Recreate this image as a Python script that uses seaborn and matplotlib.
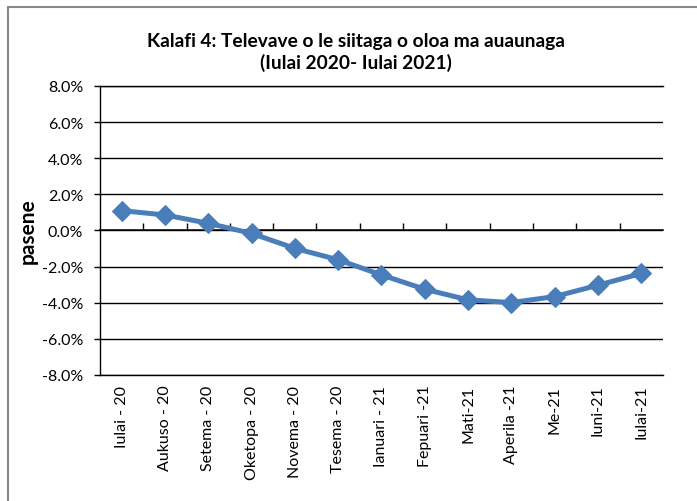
"""Kalafi 4 - consumer price change line chart."""

import matplotlib.pyplot as plt
from matplotlib.lines import Line2D
from matplotlib.ticker import FuncFormatter, MultipleLocator
import pandas as pd
import seaborn as sns

sns.set_theme(style="white")
plt.rcParams["font.family"] = ["Lato", "DejaVu Sans"]

months = [
    "Iulai - 20", "Aukuso - 20", "Setema - 20", "Oketopa - 20", "Novema - 20",
    "Tesema - 20", "Ianuari - 21", "Fepuari -21", "Mati-21", "Aperila -21",
    "Me-21", "Iuni-21", "Iulai-21",
]
change_pct = [1.1, 0.86, 0.4, -0.16, -0.99, -1.62, -2.46, -3.25, -3.84, -3.99, -3.66, -3.03, -2.38]

title = "Kalafi 4: Televave o le siitaga o oloa ma auaunaga\n(Iulai 2020- Iulai 2021)"
ylabel = "pasene"

df = pd.DataFrame({"month": months, "change": change_pct})

fig = plt.figure(figsize=(6.97, 5.02), dpi=100)
ax = fig.add_axes([0.1435, 0.251, 0.8075, 0.5757])

sns.lineplot(
    data=df, x="month", y="change", ax=ax, sort=False,
    color="#4A7EBB", linewidth=3.6, marker="D", markersize=10.5,
    markeredgecolor="#4A7EBB",
)

ax.set_xlim(-0.5, len(months) - 0.5)
ax.set_ylim(-8, 8)
ax.yaxis.set_major_locator(MultipleLocator(2))
ax.yaxis.set_major_formatter(FuncFormatter(lambda v, _: f"{v:.1f}%"))
ax.grid(True, axis="y", color="black", linewidth=1.0)
ax.set_axisbelow(True)

for side in ["left", "bottom", "top"]:
    ax.spines[side].set_color("black")
    ax.spines[side].set_linewidth(1.0)
ax.spines["right"].set_visible(False)

ax.tick_params(axis="y", direction="out", length=4, width=1, color="black",
               labelsize=11.5, colors="black", left=True, pad=8)
ax.tick_params(axis="x", length=0, labelsize=11.5, colors="black", pad=7, rotation=90)

# horizontal axis drawn at 0 % with tick marks between categories
sec = ax.secondary_xaxis(0.5)
sec.set_xticks([i - 0.5 for i in range(1, len(months))])
sec.set_xticklabels([])
sec.tick_params(axis="x", direction="out", length=5, width=1, color="black")
sec.spines["bottom"].set_color("black")
sec.spines["bottom"].set_linewidth(1.0)

ax.set_xlabel("")
ax.set_ylabel(ylabel, fontsize=15, fontweight="bold", color="black", labelpad=3)

fig.text(0.511, 0.895, title, ha="center", va="center", fontsize=13.8,
         fontweight="bold", color="black", linespacing=1.25)

# outer chart frame (left and top edges visible)
fig.add_artist(Line2D([0.0115, 0.0115], [0.0, 0.984], transform=fig.transFigure,
                      color="#888888", linewidth=1.5))
fig.add_artist(Line2D([0.0115, 1.0], [0.984, 0.984], transform=fig.transFigure,
                      color="#888888", linewidth=1.5))

fig.savefig("out.png", dpi=100)
